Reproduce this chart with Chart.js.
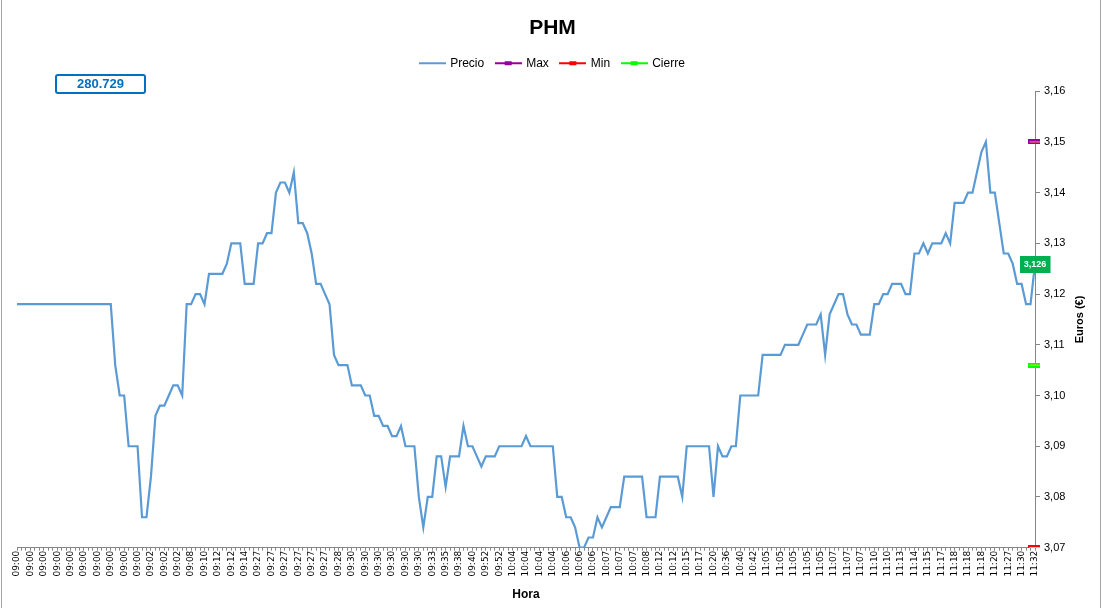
<!DOCTYPE html>
<html>
<head>
<meta charset="utf-8">
<script src="https://cdn.jsdelivr.net/npm/chart.js@4/dist/chart.umd.min.js"></script>
<style>
  body { margin: 0; background: #fff; }
  #wrap { position: relative; width: 1104px; height: 608px; }
  #vol {
    position: absolute; left: 55px; top: 74px; width: 87px; height: 16px;
    border: 2px solid #0070c0; border-radius: 3px; color: #0070c0;
    font: bold 13px "Liberation Sans", Arial, sans-serif;
    text-align: center; line-height: 16px;
  }
</style>
</head>
<body>
<div id="wrap">
  <canvas id="myChart" width="1104" height="608"></canvas>
  <div id="vol"></div>
</div>
<script>
let tickLabels = [
  '09:00', '09:00', '09:00', '09:00', '09:00', '09:00', '09:00', '09:00', '09:00', '09:00',
  '09:02', '09:02', '09:02', '09:08', '09:10', '09:12', '09:12', '09:14',
  '09:27', '09:27', '09:27', '09:27', '09:27', '09:27', '09:28',
  '09:30', '09:30', '09:30', '09:30', '09:30', '09:30', '09:33', '09:35', '09:38', '09:40',
  '09:52', '09:52', '10:04', '10:04', '10:04', '10:04', '10:06', '10:06', '10:06',
  '10:07', '10:07', '10:07', '10:08', '10:12', '10:12', '10:15', '10:17', '10:20',
  '10:36', '10:40', '10:42', '11:05', '11:05', '11:05', '11:05', '11:05',
  '11:07', '11:07', '11:07', '11:10', '11:10', '11:13', '11:14', '11:15', '11:17',
  '11:18', '11:18', '11:18', '11:20', '11:27', '11:30', '11:32'
];

let prices = [
  3.118, 3.118, 3.118, 3.118, 3.118, 3.118, 3.118, 3.118, 3.118, 3.118,
  3.118, 3.118, 3.118, 3.118, 3.118, 3.118, 3.118, 3.118, 3.118, 3.118,
  3.118, 3.118, 3.106, 3.100, 3.100, 3.090, 3.090, 3.090, 3.076, 3.076,
  3.084, 3.096, 3.098, 3.098, 3.100, 3.102, 3.102, 3.100, 3.118, 3.118,
  3.120, 3.120, 3.118, 3.124, 3.124, 3.124, 3.124, 3.126, 3.130, 3.130,
  3.130, 3.122, 3.122, 3.122, 3.130, 3.130, 3.132, 3.132, 3.140, 3.142,
  3.142, 3.140, 3.144, 3.134, 3.134, 3.132, 3.128, 3.122, 3.122, 3.120,
  3.118, 3.108, 3.106, 3.106, 3.106, 3.102, 3.102, 3.102, 3.100, 3.100,
  3.096, 3.096, 3.094, 3.094, 3.092, 3.092, 3.094, 3.090, 3.090, 3.090,
  3.080, 3.074, 3.080, 3.080, 3.088, 3.088, 3.082, 3.088, 3.088, 3.088,
  3.094, 3.090, 3.090, 3.088, 3.086, 3.088, 3.088, 3.088, 3.090, 3.090,
  3.090, 3.090, 3.090, 3.090, 3.092, 3.090, 3.090, 3.090, 3.090, 3.090,
  3.090, 3.080, 3.080, 3.076, 3.076, 3.074, 3.070, 3.070, 3.072, 3.072,
  3.076, 3.074, 3.076, 3.078, 3.078, 3.078, 3.084, 3.084, 3.084, 3.084,
  3.084, 3.076, 3.076, 3.076, 3.084, 3.084, 3.084, 3.084, 3.084, 3.080,
  3.090, 3.090, 3.090, 3.090, 3.090, 3.090, 3.080, 3.090, 3.088, 3.088,
  3.090, 3.090, 3.100, 3.100, 3.100, 3.100, 3.100, 3.108, 3.108, 3.108,
  3.108, 3.108, 3.110, 3.110, 3.110, 3.110, 3.112, 3.114, 3.114, 3.114,
  3.116, 3.108, 3.116, 3.118, 3.120, 3.120, 3.116, 3.114, 3.114, 3.112,
  3.112, 3.112, 3.118, 3.118, 3.120, 3.120, 3.122, 3.122, 3.122, 3.120,
  3.120, 3.128, 3.128, 3.130, 3.128, 3.130, 3.130, 3.130, 3.132, 3.130,
  3.138, 3.138, 3.138, 3.140, 3.140, 3.144, 3.148, 3.150, 3.140, 3.140,
  3.134, 3.128, 3.128, 3.126, 3.122, 3.122, 3.118, 3.118, 3.126
];

let maxValue = 3.15;
let minValue = 3.07;
let closeValue = 3.106;
let volume = '280.729';
let yTicks = { min: 3.07, max: 3.16, step: 0.01 };

document.getElementById('vol').textContent = volume;

// every third category carries a time label
let categories = prices.map((p, i) => i % 3 === 0 ? tickLabels[i / 3] : '');
let lastOnly = v => prices.map((p, i) => i === prices.length - 1 ? v : null);
let comma = (v, d) => v.toFixed(d).replace('.', ',');

function marker(outer, inner) {
  let c = document.createElement('canvas');
  c.width = 15; c.height = 5;
  let g = c.getContext('2d');
  g.fillStyle = outer; g.fillRect(0, 0, 15, 5);
  g.fillStyle = inner; g.fillRect(2, 2, 11, 1);
  return c;
}

function legendIcon(color, withMarker) {
  let c = document.createElement('canvas');
  c.width = 27; c.height = 6;
  let g = c.getContext('2d');
  g.fillStyle = color; g.fillRect(0, 2, 27, 2);
  if (withMarker) { g.fillRect(10, 1, 7, 4); }
  return c;
}

let colors = ['#5b9bd5', '#990099', '#ff0000', '#00ff00'];

const legendGap = {
  id: 'legendGap',
  beforeInit(chart) {
    const fit = chart.legend.fit;
    chart.legend.fit = function () { fit.call(this); this.height += 12; };
  }
};

const extras = {
  id: 'extras',
  beforeDraw(chart) {
    const ctx = chart.ctx;
    ctx.save();
    ctx.strokeStyle = '#a6a6a6';
    ctx.lineWidth = 1;
    ctx.beginPath();
    ctx.moveTo(1.5, 0); ctx.lineTo(1.5, 608);
    ctx.moveTo(1100.5, 0); ctx.lineTo(1100.5, 608);
    ctx.stroke();
    ctx.restore();
  },
  afterDraw(chart) {
    const ctx = chart.ctx;
    const pt = chart.getDatasetMeta(0).data[prices.length - 1];
    const txt = comma(prices[prices.length - 1], 3);
    ctx.save();
    ctx.font = 'bold 9px "Liberation Sans", Arial, sans-serif';
    const w = ctx.measureText(txt).width + 8;
    ctx.fillStyle = '#00b050';
    ctx.fillRect(Math.round(pt.x - w / 2), Math.round(pt.y - 8), w, 17);
    ctx.fillStyle = '#ffffff';
    ctx.textAlign = 'center';
    ctx.textBaseline = 'middle';
    ctx.fillText(txt, pt.x, pt.y + 1);

    const ys = chart.scales.y;
    ctx.translate(ys.left + 45, (ys.top + ys.bottom) / 2);
    ctx.rotate(-Math.PI / 2);
    ctx.fillStyle = '#000';
    ctx.font = 'bold 11px "Liberation Sans", Arial, sans-serif';
    ctx.fillText('Euros (€)', 0, 0);
    ctx.restore();
  }
};

Chart.defaults.font.family = '"Liberation Sans", Arial, sans-serif';
Chart.defaults.color = '#000';

let myChart = document.getElementById('myChart').getContext('2d');
let chart = new Chart(myChart, {
  type: 'line',
  data: {
    labels: categories,
    datasets: [
      {
        label: 'Precio',
        data: prices,
        borderColor: colors[0],
        borderWidth: 2.2,
        pointRadius: 0,
        tension: 0,
        fill: false
      },
      {
        label: 'Max',
        data: lastOnly(maxValue),
        showLine: false,
        borderColor: colors[1],
        pointStyle: marker('#990099', '#ff9966'),
        pointRadius: 4
      },
      {
        label: 'Min',
        data: lastOnly(minValue),
        showLine: false,
        borderColor: colors[2],
        pointStyle: marker('#ff0000', '#ffffff'),
        pointRadius: 4
      },
      {
        label: 'Cierre',
        data: lastOnly(closeValue),
        showLine: false,
        borderColor: colors[3],
        pointStyle: marker('#00ff00', '#ffcc00'),
        pointRadius: 4
      }
    ]
  },
  options: {
    responsive: false,
    animation: false,
    layout: { padding: { left: 17, right: 16, top: 0, bottom: 6 } },
    plugins: {
      title: {
        display: true,
        text: 'PHM',
        font: { size: 21, weight: 'bold' },
        padding: { top: 16, bottom: 4 }
      },
      legend: {
        display: true,
        labels: {
          font: { size: 12 },
          usePointStyle: true,
          pointStyleWidth: 24,
          padding: 12,
          generateLabels: (c) => c.data.datasets.map((ds, i) => ({
            text: ds.label,
            pointStyle: legendIcon(colors[i], i > 0),
            fillStyle: colors[i],
            strokeStyle: colors[i],
            lineWidth: 0,
            hidden: false,
            datasetIndex: i
          }))
        }
      },
      tooltip: { enabled: false }
    },
    scales: {
      x: {
        offset: false,
        border: { color: '#868686' },
        grid: { drawOnChartArea: false, tickLength: 3, color: '#868686' },
        ticks: {
          autoSkip: false,
          maxRotation: 90,
          minRotation: 90,
          padding: 0,
          font: { family: '"DejaVu Sans", sans-serif', size: 9 }
        },
        title: {
          display: true,
          text: 'Hora',
          font: { size: 12, weight: 'bold' },
          padding: { top: 11, bottom: 0 }
        }
      },
      y: {
        position: 'right',
        min: yTicks.min,
        max: yTicks.max,
        border: { color: '#868686' },
        grid: { drawOnChartArea: false, tickLength: 5, color: '#868686' },
        ticks: {
          stepSize: yTicks.step,
          padding: 4,
          font: { size: 11 },
          callback: v => comma(v, 2)
        },
        afterFit: (scale) => { scale.width = 53; }
      }
    }
  },
  plugins: [legendGap, extras]
});
</script>
</body>
</html>
